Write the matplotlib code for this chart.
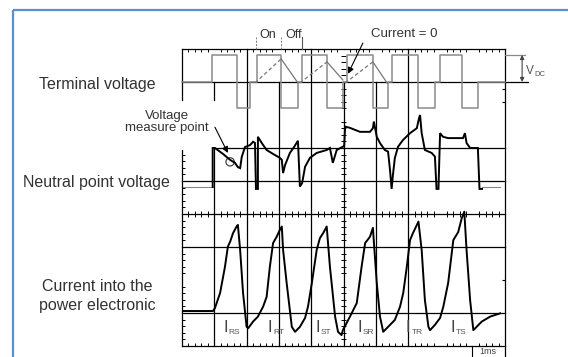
import matplotlib
matplotlib.use("Agg")
import matplotlib.pyplot as plt
from matplotlib.patches import Rectangle, Ellipse
import numpy as np

plt.rcParams['font.family'] = ['Liberation Sans', 'DejaVu Sans']
plt.rcParams['mathtext.fontset'] = 'custom'
plt.rcParams['mathtext.rm'] = 'Liberation Sans'

# ---------------- data (time in ms = divisions, value in divisions) ----------------
row_labels = ["Terminal voltage", "Neutral point voltage", "Current into the\npower electronic"]

term_t = [0, 0.93, 1.70, 2.11, 2.32, 3.07, 3.59, 3.72, 4.49, 4.98, 5.11, 5.91,
          6.38, 6.50, 7.31, 7.83, 7.99, 8.67, 9.16, 10]
term_v = [8.0, 8.82, 7.2, 8.0, 8.82, 7.2, 8.0, 8.82, 7.2, 8.0, 8.82, 7.2,
          8.0, 8.82, 7.2, 8.0, 8.82, 7.2, 8.0, 8.0]

tri_t = [2.26, 3.07, 3.59, 3.65, 4.49, 4.98, 5.05, 5.91, 6.35]
tri_v = [7.97, 8.70, 7.97, 7.97, 8.61, 8.06, 7.97, 8.61, 7.97]

neutral_t = [0.95, 0.95, 1.02, 1.27, 1.49, 1.64, 1.73, 1.80, 1.85, 1.95, 2.11, 2.20,
             2.26, 2.29, 2.35, 2.35, 2.47, 2.62, 2.82, 3.03, 3.09, 3.13, 3.19, 3.34,
             3.47, 3.59, 3.65, 3.72, 3.81, 3.96, 4.17, 4.48, 4.58, 4.67, 4.79, 4.98,
             5.02, 5.05, 5.20, 5.51, 5.82, 5.91, 5.94, 6.03, 6.13, 6.28, 6.38, 6.44,
             6.49, 6.53, 6.59, 6.69, 6.84, 7.06, 7.27, 7.34, 7.37, 7.42, 7.52, 7.73,
             7.83, 7.88, 7.94, 7.99, 8.08, 8.24, 8.70, 8.76, 8.81, 8.92, 9.16, 9.21, 9.29]
neutral_v = [4.82, 6.00, 6.00, 5.82, 5.64, 5.55, 5.42, 5.39, 5.73, 6.03, 6.09, 6.19,
             6.15, 4.76, 4.76, 6.34, 6.15, 5.94, 5.82, 5.70, 5.64, 5.24, 5.48, 5.85,
             6.03, 6.22, 4.83, 4.94, 5.43, 5.70, 5.85, 5.94, 6.00, 5.55, 5.94, 6.04,
             6.06, 6.65, 6.61, 6.49, 6.49, 6.60, 6.80, 6.34, 6.15, 5.94, 5.89, 5.33,
             4.76, 5.18, 5.70, 6.04, 6.24, 6.45, 6.60, 6.91, 7.00, 6.45, 5.94, 5.85,
             5.74, 4.76, 4.76, 6.45, 6.34, 6.30, 6.30, 6.45, 6.15, 6.00, 6.00, 4.76, 4.76]
neutral_base_t = [[0.03, 0.96], [9.29, 9.85]]
neutral_base_v = 4.82

current_t = [0.03, 0.96, 1.02, 1.18, 1.33, 1.42, 1.49, 1.58, 1.69, 1.73, 1.80, 1.89,
             2.00, 2.05, 2.20, 2.35, 2.51, 2.62, 2.72, 2.82, 2.93, 3.03, 3.09, 3.13,
             3.24, 3.40, 3.50, 3.65, 3.81, 3.90, 4.02, 4.17, 4.27, 4.37, 4.48, 4.58,
             4.74, 4.83, 4.94, 4.98, 5.20, 5.41, 5.56, 5.67, 5.82, 5.91, 6.03, 6.13,
             6.23, 6.44, 6.59, 6.75, 6.85, 6.96, 7.06, 7.15, 7.32, 7.42, 7.52, 7.63,
             7.68, 7.83, 7.99, 8.09, 8.24, 8.40, 8.55, 8.66, 8.74, 8.81, 8.92, 9.02,
             9.12, 9.28, 9.54, 9.85]
current_v = [1.06, 1.06, 1.15, 1.61, 2.40, 3.01, 3.16, 3.42, 3.62, 3.67, 2.91, 1.61,
             0.58, 0.54, 0.74, 0.89, 1.19, 1.49, 2.40, 3.12, 3.31, 3.52, 3.62, 2.91,
             1.91, 0.58, 0.43, 0.58, 0.85, 1.19, 1.91, 2.91, 3.27, 3.42, 3.62, 2.40,
             0.89, 0.43, 0.33, 0.48, 0.89, 1.30, 2.40, 3.12, 3.31, 3.58, 1.91, 0.89,
             0.43, 0.64, 0.79, 1.19, 1.61, 2.40, 3.21, 3.42, 3.77, 2.91, 1.39, 0.58,
             0.48, 0.64, 0.85, 1.19, 1.91, 3.21, 3.45, 3.87, 4.07, 2.91, 1.39, 0.48,
             0.58, 0.74, 0.89, 0.99]

current_names = ["RS", "RT", "ST", "SR", "TR", "TS"]
current_label_t = [1.27, 2.66, 4.12, 5.42, 6.93, 8.30]

# grid: horizontal lines (y, x start, x end), vertical lines (x, y start, y end)
hgrid = [(9, 0, 10), (8, 0, 10.7), (6, 0.96, 10), (5, 0, 10), (4, 0, 10),
         (3, 0, 10), (1, 0, 10), (0, 0, 10)]
vgrid = [(0, 7.45, 9), (0, 0, 5.94), (1, 7.45, 8), (1, 0, 6), (2, 0, 9), (3, 0, 8),
         (4, 0, 9), (5, 0, 8), (6, 0, 8), (7, 0, 9), (10, -0.33, 9)]

# ---------------- figure ----------------
W, H = 568, 357
fig = plt.figure(figsize=(W / 100, H / 100), dpi=100)
ov = fig.add_axes([0, 0, 1, 1], zorder=0)
ov.set_xlim(0, W)
ov.set_ylim(H, 0)
ov.axis('off')
ov.add_patch(Rectangle((13, 9.5), 700, 500, fill=False, edgecolor='#5b8fd2', lw=1.6))

txtc = '#333333'
ov.text(97, 85, row_labels[0], ha='center', va='center', fontsize=11.5, color=txtc)
ov.text(96, 182, row_labels[1], ha='center', va='center', fontsize=11.5, color=txtc)
ov.text(97, 296, row_labels[2], ha='center', va='center', fontsize=11.5, color=txtc,
        linespacing=1.35)
ov.text(167, 122, "Voltage\nmeasure point", ha='center', va='center', fontsize=9.5,
        color=txtc, linespacing=0.95)

ax = fig.add_axes([182 / W, 11 / H, 323 / W, 297 / H], zorder=1)
ax.set_facecolor('none')
ax.set_xlim(0, 10)
ax.set_ylim(0, 9)
ax.axis('off')

gk = dict(color='black', lw=0.9, clip_on=False)
for y, x0, x1 in hgrid:
    ax.plot([x0, x1], [y, y], **gk)
for x, y0, y1 in vgrid:
    ax.plot([x, x], [y0, y1], **gk)

# minor ticks
minor = [m for m in np.arange(0.2, 10, 0.2) if abs(m - round(m)) > 1e-6]
ax.vlines(minor, 9 - 0.09, 9, color='black', lw=0.7, clip_on=False)
ax.vlines(minor, 4 - 0.08, 4 + 0.08, color='black', lw=0.7, clip_on=False)
ax.vlines(minor, 0, 0.09, color='black', lw=0.7, clip_on=False)
yminor = [m for m in np.arange(0.2, 9, 0.2) if abs(m - round(m)) > 1e-6]
ax.hlines([m for m in yminor if m < 8.9], 5 - 0.08, 5 + 0.08, color='black', lw=0.7)
ax.hlines([m for m in yminor if m < 5.9], 0, 0.09, color='black', lw=0.7)
ax.hlines([7.8, 7.4, 2.0], 10 - 0.1, 10, color='black', lw=0.8)

# terminal voltage
ax.step(term_t, term_v, where='post', color='#8a8a8a', lw=1.1, clip_on=False)
for i in range(0, len(tri_t) - 1):
    seg = (i % 3)
    if seg == 2:
        continue
    ls = '--' if seg == 0 else '-'
    ax.plot(tri_t[i:i + 2], tri_v[i:i + 2], color='#777777', lw=0.9, ls=ls,
            dashes=(3, 2) if ls == '--' else (None, None))

# V_DC marker
ax.plot([10, 10.62], [8.82, 8.82], color='#8a8a8a', lw=0.9, clip_on=False)
ax.annotate('', xy=(10.53, 8.82), xytext=(10.53, 8.0),
            arrowprops=dict(arrowstyle='<|-|>', color='#444444', lw=0.8,
                            mutation_scale=6, shrinkA=0, shrinkB=0),
            annotation_clip=False)
ax.text(10.65, 8.33, 'V', fontsize=8.5, color='#555555', va='center', ha='left',
        clip_on=False)
ax.annotate('DC', xy=(10.65, 8.33), xytext=(6.2, -2.5), textcoords='offset points',
            fontsize=5.5, color='#555555', va='center', ha='left', annotation_clip=False)

# On / Off
ax.text(2.67, 9.42, "On", fontsize=9, color=txtc, ha='center', va='center')
ax.text(3.45, 9.42, "Off", fontsize=9, color=txtc, ha='center', va='center')
ax.plot([2.29, 2.29], [9.0, 9.36], color='#777777', lw=0.7, ls=(0, (2, 1.5)), clip_on=False)
ax.plot([3.07, 3.07], [9.0, 9.36], color='#777777', lw=0.7, ls=(0, (2, 1.5)), clip_on=False)
ax.plot([3.72, 3.72], [9.0, 9.36], color='#555555', lw=0.8, clip_on=False)

# Current = 0
ax.text(6.87, 9.45, "Current = 0", fontsize=9.5, color=txtc, ha='center', va='center')
ax.annotate('', xy=(5.14, 8.25), xytext=(5.6, 9.18),
            arrowprops=dict(arrowstyle='-|>', color='black', lw=0.8,
                            mutation_scale=9, shrinkA=0, shrinkB=0),
            annotation_clip=False)

# neutral point voltage
for bt in neutral_base_t:
    ax.plot(bt, [neutral_base_v, neutral_base_v], color='#888888', lw=0.8)
ax.plot(neutral_t, neutral_v, color='black', lw=1.4, solid_joinstyle='miter')
ax.annotate('', xy=(1.42, 5.85), xytext=(1.02, 6.63),
            arrowprops=dict(arrowstyle='-|>', color='black', lw=0.8,
                            mutation_scale=9, shrinkA=0, shrinkB=0),
            annotation_clip=False)
ax.add_patch(Ellipse((1.49, 5.58), 0.26, 0.25, fill=False, edgecolor='#333333', lw=0.8))

# current
ax.plot(current_t, current_v, color='black', lw=1.4)
for name, t in zip(current_names, current_label_t):
    ax.text(t, 0.55, 'I', fontsize=12, color='#444444', ha='left', va='center')
    ax.annotate(name, xy=(t, 0.55), xytext=(4.2, -3.5), textcoords='offset points',
                fontsize=6, color='#555555', ha='left', va='center')

# 1ms box
ax.plot([8.97, 8.97], [0, -0.33], color='black', lw=0.8, clip_on=False)
ax.text(9.48, -0.18, "1ms", fontsize=6.5, color='#444444', ha='center', va='center',
        clip_on=False)

fig.savefig('out.png', dpi=100)
